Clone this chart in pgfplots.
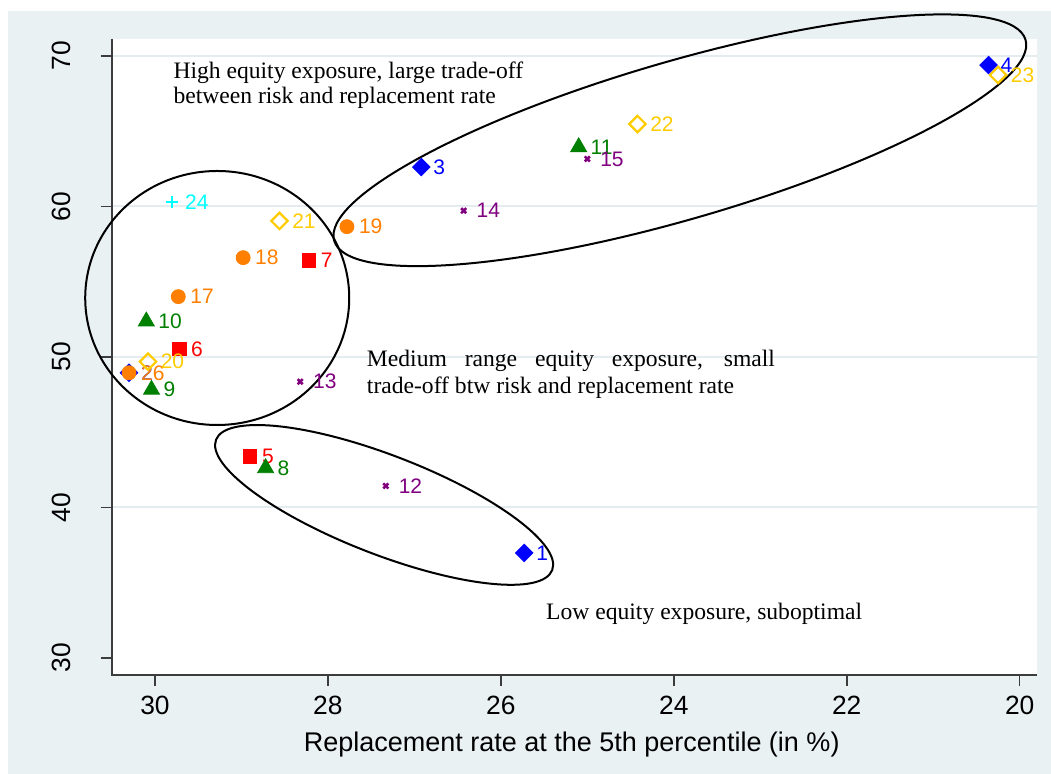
\documentclass[border=0pt]{standalone}
\usepackage{pgfplots}
\pgfplotsset{compat=1.18}
\usepackage{pgfplotstable}
\usepackage{fontspec}
\setmainfont{Liberation Serif}
\setsansfont{Liberation Sans}
\definecolor{bgc}{RGB}{234,241,243}
\definecolor{gridc}{RGB}{228,236,240}
\definecolor{sblue}{RGB}{0,0,255}
\definecolor{sred}{RGB}{255,0,0}
\definecolor{sgreen}{RGB}{0,128,0}
\definecolor{spurple}{RGB}{128,0,128}
\definecolor{sorange}{RGB}{255,128,0}
\definecolor{sgold}{RGB}{255,204,0}
\definecolor{scyan}{RGB}{0,255,255}
\definecolor{axc}{RGB}{60,60,60}

\pgfplotstableread{
x y lab
25.73 36.98 1
30.30 48.95 2
26.92 62.62 3
20.36 69.40 4
}\tblue
\pgfplotstableread{
x y lab
28.90 43.40 5
29.72 50.53 6
28.22 56.40 7
}\tred
\pgfplotstableread{
x y lab
28.72 42.62 8
30.04 47.83 9
30.10 52.37 10
25.10 63.95 11
}\tgreen
\pgfplotstableread{
x y lab
27.33 41.43 12
28.32 48.36 13
26.43 59.72 14
25.00 63.16 15
}\tpurple
\pgfplotstableread{
x y lab
29.73 54.01 17
28.98 56.60 18
27.78 58.66 19
30.30 48.95 26
}\torange
\pgfplotstableread{
x y lab
30.08 49.69 20
28.56 59.04 21
24.42 65.48 22
20.25 68.74 23
}\tgold
\pgfplotstableread{
x y lab
29.80 60.28 24
}\tcyan

\begin{document}
\begin{tikzpicture}
\useasboundingbox (-56pt,-49.5pt) rectangle (469.5pt,337.5pt);
\fill[white] (-56pt,-49.5pt) rectangle (469.5pt,337.5pt);
\fill[bgc] (-52pt,-49.5pt) rectangle (469.5pt,332pt);
\begin{axis}[
  scale only axis, width=462.5pt, height=318pt,
  x dir=reverse,
  xmin=19.80, xmax=30.497, ymin=28.87, ymax=71.13,
  xtick={20,22,...,30}, ytick={30,40,...,70},
  axis background/.style={fill=white},
  axis line style={draw=none},
  tick align=outside, major tick length=5.5pt,
  tick style={axc, line width=0.8pt},
  xtick pos=bottom, ytick pos=left,
  ticklabel style={font=\sffamily\fontsize{13.2}{15}\selectfont, text=black},
  yticklabel style={rotate=90, anchor=south},
  yticklabel shift=11.6pt, xticklabel shift=1.6pt,
  /pgf/number format/assume math mode=true,
  xlabel={Replacement rate at the 5th percentile (in \%)},
  xlabel style={font=\sffamily\fontsize{13.5}{15}\selectfont, at={(axis description cs:0.497,0)}, anchor=base, yshift=-38.5pt},
  clip=false,
  nodes near coords, point meta=explicit symbolic,
  every node near coord/.append style={anchor=west, xshift=2.5pt, font=\sffamily\fontsize{10.5}{12}\selectfont},
]
\pgfplotsinvokeforeach{40,50,60,70}{
  \draw[gridc, line width=1pt] (axis cs:30.497,#1) -- (axis cs:19.80,#1);
}
\draw[axc, line width=1pt] (axis description cs:0,1) -- (axis description cs:0,0) -- (axis description cs:1,0);

\draw[black, line width=1pt, rotate around={16.2:(axis cs:23.93,64.40)}] (axis cs:23.93,64.40) ellipse [x radius=180pt, y radius=39.5pt];
\draw[black, line width=1pt, rotate around={-21.2:(axis cs:27.35,40.17)}] (axis cs:27.35,40.17) ellipse [x radius=90.15pt, y radius=24.75pt];
\draw[black, line width=1pt] (axis cs:29.28,53.92) ellipse [x radius=66pt, y radius=63.5pt];

\addplot[only marks, color=sblue, mark=square*, mark size=3.1pt, mark options={rotate=45}] table[meta=lab] {\tblue};
\addplot[only marks, color=sred, mark=square*, mark size=3.4pt] table[meta=lab] {\tred};
\addplot[only marks, color=sgreen, mark=triangle*, mark size=4.6pt] table[meta=lab] {\tgreen};
\addplot[only marks, color=spurple, mark=x, mark size=1.8pt, mark options={line width=1.3pt}] table[meta=lab] {\tpurple};
\addplot[only marks, color=sorange, mark=*, mark size=3.5pt] table[meta=lab] {\torange};
\addplot[only marks, color=sgold, mark=square, mark size=2.9pt, mark options={rotate=45, fill=white, line width=1.1pt}] table[meta=lab] {\tgold};
\addplot[only marks, color=scyan, mark=+, mark size=3pt, mark options={line width=1.2pt}] table[meta=lab] {\tcyan};

\node[anchor=base west, inner sep=0pt, font=\fontsize{11.8}{13}\selectfont] at (axis cs:29.79,68.52) {High equity exposure, large trade-off};
\node[anchor=base west, inner sep=0pt, font=\fontsize{11.8}{13}\selectfont] at (axis cs:29.79,66.86) {between risk and replacement rate};
\node[anchor=base west, inner sep=0pt, font=\fontsize{11.8}{13}\selectfont] at (axis cs:27.553,49.36) {\makebox[204pt][s]{Medium range equity exposure, small}};
\node[anchor=base west, inner sep=0pt, font=\fontsize{11.8}{13}\selectfont] at (axis cs:27.553,47.59) {trade-off btw risk and replacement rate};
\node[anchor=base west, inner sep=0pt, font=\fontsize{11.8}{13}\selectfont] at (axis cs:25.48,32.53) {Low equity exposure, suboptimal};
\end{axis}
\end{tikzpicture}
\end{document}
